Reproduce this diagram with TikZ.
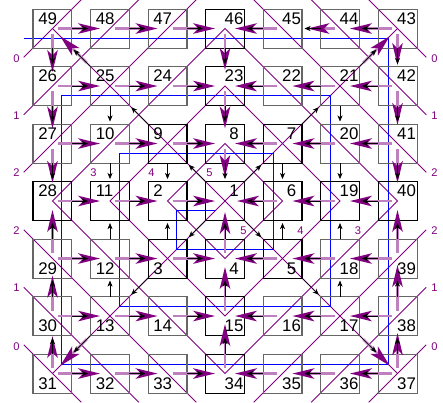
\documentclass[tikz,border=0pt]{standalone}
\usepackage{fontspec}
\setmainfont{Liberation Sans}
\usetikzlibrary{arrows.meta,calc}
\definecolor{vio}{RGB}{128,0,128}
\begin{document}
\begin{tikzpicture}[x=1.2cm,y=1.2cm,
  box/.style={draw=black!60,line width=0.6pt,minimum size=0.8136cm,inner sep=0pt,outer sep=0pt},
  boxk/.style={box,draw=black},
  num/.style={font=\fontsize{10}{12}\selectfont,inner sep=0pt},
  lvl/.style={font=\fontsize{6.6}{8}\selectfont,text=vio,inner sep=0pt},
  dline/.style={draw=vio,line width=0.5pt},
  spiral/.style={draw=blue,line width=0.6pt},
  mag/.style={draw=vio!50,line width=1.5pt,shorten <=3pt,-{Stealth[length=13pt,width=6.2pt,inset=3.2pt,color=vio]}},
  blk/.style={draw=black,line width=0.4pt,shorten >=1.5pt,-{Stealth[length=3.6pt,width=3pt,inset=1pt]}},
]
\useasboundingbox (-3.913,-3.496) rectangle (3.791,3.496);
\def\gridlist{49/0/0,48/1/0,47/2/0,46/3/0,45/4/0,44/5/0,43/6/0,
26/0/1,25/1/1,24/2/1,23/3/1,22/4/1,21/5/1,42/6/1,
27/0/2,10/1/2,9/2/2,8/3/2,7/4/2,20/5/2,41/6/2,
28/0/3,11/1/3,2/2/3,1/3/3,6/4/3,19/5/3,40/6/3,
29/0/4,12/1/4,3/2/4,4/3/4,5/4/4,18/5/4,39/6/4,
30/0/5,13/1/5,14/2/5,15/3/5,16/4/5,17/5/5,38/6/5,
31/0/6,32/1/6,33/2/6,34/3/6,35/4/6,36/5/6,37/6/6}
% contour lines
\foreach \k in {1,2,3}{\draw[dline] (\k,0)--(0,\k)--(-\k,0)--(0,-\k)--cycle;}
\foreach \k in {4,5,6}{
  \draw[dline] (-3.5,\k-3.5) -- (3.5-\k,3.5);
  \draw[dline] (\k-3.5,3.5) -- (3.5,\k-3.5);
  \draw[dline] (-3.5,3.5-\k) -- (3.5-\k,-3.5);
  \draw[dline] (\k-3.5,-3.5) -- (3.5,3.5-\k);
}
\draw[dline] (-3,3) -- (3,-3);
\draw[dline] (-3,-3) -- (3,3);
% spiral
\draw[spiral] (-3.5,2.835) -- (2.835,2.835) -- (2.835,-2.835) -- (-2.835,-2.835) -- (-2.835,1.835) -- (1.835,1.835) -- (1.835,-1.835) -- (-1.835,-1.835) -- (-1.835,0.835) -- (0.835,0.835) -- (0.835,-0.835) -- (-0.835,-0.835) -- (-0.835,-0.165) -- (-0.165,-0.165);
% boxes
\foreach \n/\c/\r in \gridlist {
  \pgfmathtruncatemacro\dk{(\c==3)+(\r==3)+(abs(\c-3)<=1)*(abs(\r-3)<=1)}
  \ifnum\dk>0 \node[boxk] (n\n) at (\c-3,3-\r) {};
  \else \node[box] (n\n) at (\c-3,3-\r) {};\fi
}
% magenta arrows
\foreach \a/\b/\s in {49/48/5.9,48/47/5.9,47/46/5.9,43/44/5.9,44/45/14.8,45/46/5.9,
 26/25/5.9,25/24/5.9,24/23/5.9,42/21/5.9,21/22/5.9,22/23/5.9,
 27/10/5.9,10/9/5.9,9/8/5.9,41/20/5.9,20/7/5.9,7/8/5.9,
 28/11/5.9,11/2/5.9,2/1/5.9,40/19/5.9,19/6/5.9,6/1/7.1,
 29/12/5.9,12/3/5.9,3/4/5.9,39/18/5.9,18/5/5.9,5/4/5.9,
 30/13/5.9,13/14/5.9,14/15/5.9,38/17/5.9,17/16/5.9,16/15/5.9,
 31/32/5.9,32/33/5.9,33/34/5.9,37/36/5.9,36/35/5.9,35/34/5.9,
 49/26/8.3,26/27/8.9,27/28/10.7,31/30/11.8,30/29/10.1,29/28/5.3,
 46/23/9.5,23/8/8.9,8/1/14.2,34/15/4.7,15/4/5,4/1/6.5,
 43/42/12.4,42/41/11,41/40/10.7,37/38/10.1,38/39/3.8,39/40/5.3}{
  \draw[mag,shorten >=\s pt] (n\a.center) -- (n\b.center);
}
\foreach \a/\b in {25/49,21/43,13/31,17/37}{
  \draw[mag,shorten <=19.5pt,shorten >=6.5pt] (n\a.center) -- (n\b.center);
}
% black arrows
\foreach \a/\b in {49/48,48/47,47/46,43/44,44/45,45/46,
 26/25,25/24,24/23,42/21,21/22,22/23,
 27/10,10/9,9/8,41/20,20/7,7/8,
 28/11,11/2,2/1,40/19,19/6,6/1,
 29/12,12/3,3/4,39/18,18/5,5/4,
 30/13,13/14,14/15,38/17,17/16,16/15,
 31/32,32/33,33/34,37/36,36/35,35/34,
 49/26,26/27,27/28,31/30,30/29,29/28,
 46/23,23/8,8/1,34/15,15/4,4/1,
 43/42,42/41,41/40,37/38,38/39,39/40,
 25/49,21/43,13/31,17/37,
 25/10,10/11,13/12,12/11,9/2,3/2,7/6,5/6,21/20,20/19,17/18,18/19,
 1/9,9/25,1/7,7/21,1/3,3/13,1/5,5/17}{
  \draw[blk] (n\a) -- (n\b);
}
% numbers
\foreach \n/\c/\r in \gridlist {
  \pgfmathsetmacro\ty{ifthenelse(\r<4,0.174,-0.174)}
  \ifnum\c<3 \node[num,anchor=west] (t\n) at (\c-3-0.252,3-\r+\ty) {\n};
  \else \node[num] (t\n) at (\c-3+0.157,3-\r+\ty) {\n};\fi
}
% level labels
\node[lvl] (la) at (-3.626,2.47) {0};
\node[lvl] (lb) at (-3.626,1.478) {1};
\node[lvl] (lc) at (-3.626,0.487) {2};
\node[lvl] (ld) at (-3.626,-0.522) {2};
\node[lvl] (le) at (-3.626,-1.513) {1};
\node[lvl] (lf) at (-3.626,-2.53) {0};
\node[lvl] (ra) at (3.643,2.47) {0};
\node[lvl] (rb) at (3.643,1.478) {1};
\node[lvl] (rc) at (3.643,0.487) {2};
\node[lvl] (rd) at (3.643,-0.522) {2};
\node[lvl] (re) at (3.643,-1.513) {1};
\node[lvl] (rf) at (3.643,-2.53) {0};
\node[lvl] (ia) at (-2.287,0.487) {3};
\node[lvl] (ib) at (-1.28,0.487) {4};
\node[lvl] (ic) at (-0.27,0.487) {5};
\node[lvl] (id) at (0.322,-0.52) {5};
\node[lvl] (ie) at (1.313,-0.52) {4};
\node[lvl] (if) at (2.313,-0.52) {3};
\end{tikzpicture}
\end{document}
